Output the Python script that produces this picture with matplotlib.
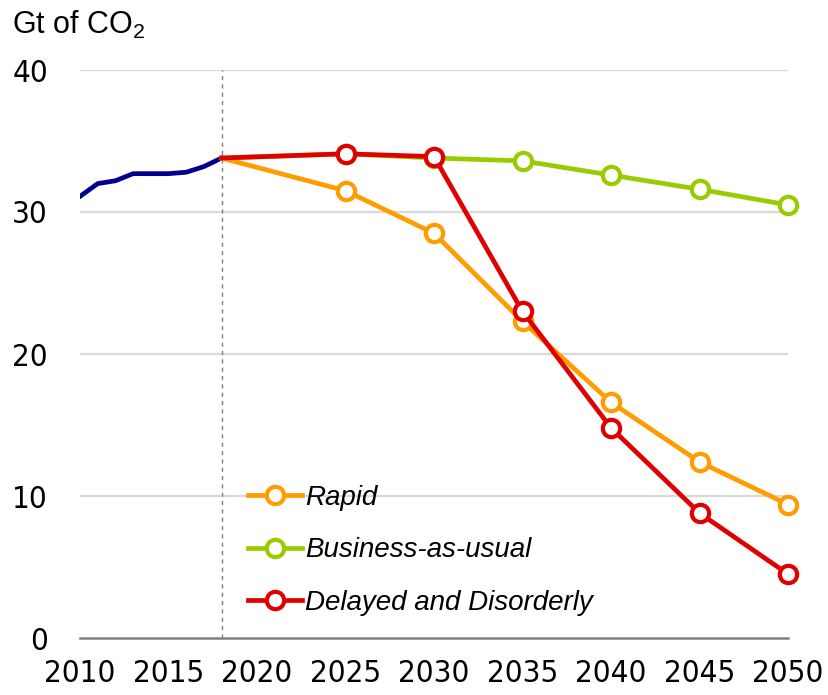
import matplotlib
matplotlib.use("Agg")
import matplotlib.pyplot as plt

# historical emissions
hist_years = [2010, 2011, 2012, 2013, 2014, 2015, 2016, 2017, 2018]
hist_vals = [31.1, 32.0, 32.2, 32.7, 32.7, 32.7, 32.8, 33.2, 33.8]

# scenarios
scen_years = [2018, 2025, 2030, 2035, 2040, 2045, 2050]
rapid = [33.8, 31.5, 28.5, 22.3, 16.6, 12.4, 9.4]
bau = [33.8, 34.1, 33.8, 33.6, 32.6, 31.6, 30.5]
delayed = [33.8, 34.1, 33.9, 23.0, 14.8, 8.8, 4.5]

xticks = [2010, 2015, 2020, 2025, 2030, 2035, 2040, 2045, 2050]
yticks = [0, 10, 20, 30, 40]

plt.rcParams['font.family'] = ['Liberation Sans', 'DejaVu Sans']
plt.rcParams['mathtext.fontset'] = 'custom'
plt.rcParams['mathtext.rm'] = 'Liberation Sans'

fig = plt.figure(figsize=(8.29, 6.95), dpi=100)
ax = fig.add_axes([80/829, 1-638/695, (788-80)/829, (638-70)/695])

ax.set_xlim(2010, 2050)
ax.set_ylim(0, 40)

for y in yticks[1:]:
    ax.axhline(y, color='#d9d9d9', lw=1.6, zorder=1)
ax.axvline(2018, color='#808080', lw=1, ls=(0, (3, 3)), zorder=1)

mk = dict(marker='o', ms=12.5, mfc='white', mew=3, lw=3.4, clip_on=False)
ax.plot(hist_years, hist_vals, color='#00008f', lw=3.4, zorder=3)
h_bau, = ax.plot(scen_years, bau, color='#99cc00', markevery=list(range(1, 7)), zorder=3, **mk)
h_rap, = ax.plot(scen_years, rapid, color='#ff9c00', markevery=list(range(1, 7)), zorder=4, **mk)
h_del, = ax.plot(scen_years, delayed, color='#e00000', markevery=list(range(1, 7)), zorder=5, **mk)

for s in ['left', 'right', 'top']:
    ax.spines[s].set_visible(False)
ax.spines['bottom'].set_color('#808080')
ax.spines['bottom'].set_linewidth(1.8)

ax.set_xticks(xticks)
ax.set_yticks(yticks)
ax.tick_params(length=0)
ax.tick_params(axis='x', pad=15)
ax.tick_params(axis='y', pad=23)
for lab in ax.get_xticklabels() + ax.get_yticklabels():
    lab.set_fontfamily('DejaVu Sans')
    lab.set_fontstretch('condensed')
    lab.set_fontsize(22.5)

fig.text(12/829, 1-34/695, 'Gt of CO$_2$', fontsize=22, ha='left', va='baseline')

leg = ax.legend([h_rap, h_bau, h_del], ['Rapid', 'Business-as-usual', 'Delayed and Disorderly'],
                loc='upper left', bbox_to_anchor=(248/829, 1-485/695), bbox_transform=fig.transFigure,
                frameon=False, numpoints=1, borderpad=0, borderaxespad=0,
                handlelength=1.95, handletextpad=0.1, labelspacing=0.95,
                prop={'style': 'italic', 'size': 20})
for line in leg.get_lines():
    line.set_markevery([1])

fig.savefig('out.png', dpi=100)
